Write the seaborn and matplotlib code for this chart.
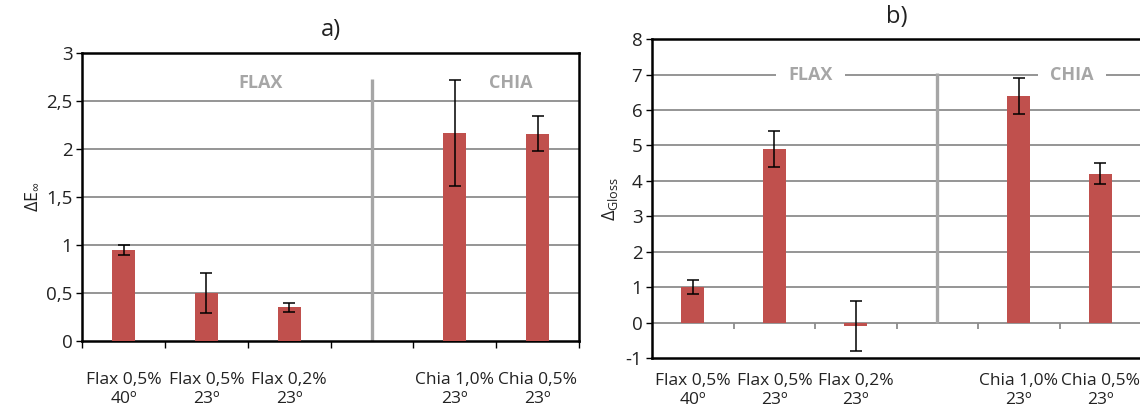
import matplotlib
matplotlib.use("Agg")
import matplotlib.pyplot as plt
import seaborn as sns
import pandas as pd
import numpy as np

# ---- data ----
categories = ["Flax 0,5%\n40º", "Flax 0,5%\n23º", "Flax 0,2%\n23º", "",
              "Chia 1,0%\n23º", "Chia 0,5%\n23º"]
dE_values = [0.95, 0.50, 0.35, np.nan, 2.17, 2.16]
dE_errors = [0.055, 0.21, 0.05, np.nan, 0.55, 0.18]
gloss_values = [1.0, 4.9, -0.1, np.nan, 6.4, 4.2]
gloss_errors = [0.2, 0.5, 0.7, np.nan, 0.5, 0.3]
yticks_a = [0, 0.5, 1, 1.5, 2, 2.5, 3]
yticks_b = [-1, 0, 1, 2, 3, 4, 5, 6, 7, 8]
group_labels = ["FLAX", "CHIA"]

sns.set_theme(style="white")
plt.rcParams['font.family'] = ['Open Sans', 'DejaVu Sans']
plt.rcParams['mathtext.default'] = 'regular'

BAR = "#C0504D"
GRID = "#8C8C8C"
DIV = "#A6A6A6"
TXT = "#222222"

fig = plt.figure(figsize=(11.4, 4.17), dpi=100)
ax_a = fig.add_axes([0.072, 0.182, 0.436, 0.691])
ax_b = fig.add_axes([0.572, 0.1415, 0.429, 0.7645])

def fmt(v):
    return ("%g" % v).replace(".", ",")

def draw(ax, vals, errs, yticks, ylabel, ylsize, title, xpad, grid_zero):
    df = pd.DataFrame({"cat": categories, "val": vals}).dropna()
    sns.barplot(data=df, x="cat", y="val", order=categories, color=BAR,
                width=0.28, saturation=1, ax=ax, zorder=3, edgecolor="none")
    pos = np.arange(len(categories))
    ax.errorbar(pos, vals, yerr=errs, fmt="none", ecolor="black",
                elinewidth=1.1, capsize=4, capthick=1.1, zorder=4)
    ax.set_ylim(yticks[0], yticks[-1])
    ax.set_xlim(-0.5, len(categories) - 0.5)
    ax.set_yticks(yticks)
    ax.set_yticklabels([fmt(v) for v in yticks], fontsize=13.5, color=TXT)
    ax.set_xticks(pos)
    ax.set_xticklabels(categories, fontsize=12.5, color=TXT, linespacing=1.25)
    ax.tick_params(axis="x", length=0, pad=xpad)
    ax.tick_params(axis="y", length=4, width=1, color="black", left=True,
                   direction="out", pad=3)
    for yv in yticks[1:-1]:
        if yv == 0 and not grid_zero:
            continue
        ax.axhline(yv, color=GRID, lw=1.3, zorder=1)
    for s in ax.spines.values():
        s.set_color("black")
        s.set_linewidth(1.8)
        s.set_visible(True)
    ax.set_xlabel("")
    ax.set_ylabel(ylabel, fontsize=ylsize, color=TXT, labelpad=4)
    ax.set_title(title, fontsize=17, color=TXT, pad=12)

draw(ax_a, dE_values, dE_errors, yticks_a, r"$\Delta E_{\infty}$", 13, "a)", 22, False)
draw(ax_b, gloss_values, gloss_errors, yticks_b, r"$\Delta_{Gloss}$", 13, "b)", 11, True)

bounds = np.arange(len(categories) + 1) - 0.5
ax_a.set_xticks(bounds, minor=True)
ax_a.tick_params(axis="x", which="minor", length=5, width=1, color="black",
                 bottom=True, direction="out")
ax_b.vlines(bounds, -0.17, 0, color=GRID, lw=1.3, zorder=1)

empty_idx = categories.index("")
ax_a.vlines(empty_idx, 0, 2.73, color=DIV, lw=2.4, zorder=2)
ax_b.vlines(empty_idx, 0, 7.05, color=DIV, lw=2.4, zorder=2)

ax_a.text(1.66, 2.69, group_labels[0], ha="center", va="center", fontsize=13,
          fontweight="bold", color=DIV, zorder=5)
ax_a.text(4.68, 2.69, group_labels[1], ha="center", va="center", fontsize=13,
          fontweight="bold", color=DIV, zorder=5)
for xx, lab in zip([1.44, 4.65], group_labels):
    ax_b.text(xx, 7.0, lab, ha="center", va="center", fontsize=13,
              fontweight="bold", color=DIV, zorder=5,
              bbox=dict(facecolor="white", edgecolor="none", pad=9))

fig.savefig("out.png", dpi=100)
